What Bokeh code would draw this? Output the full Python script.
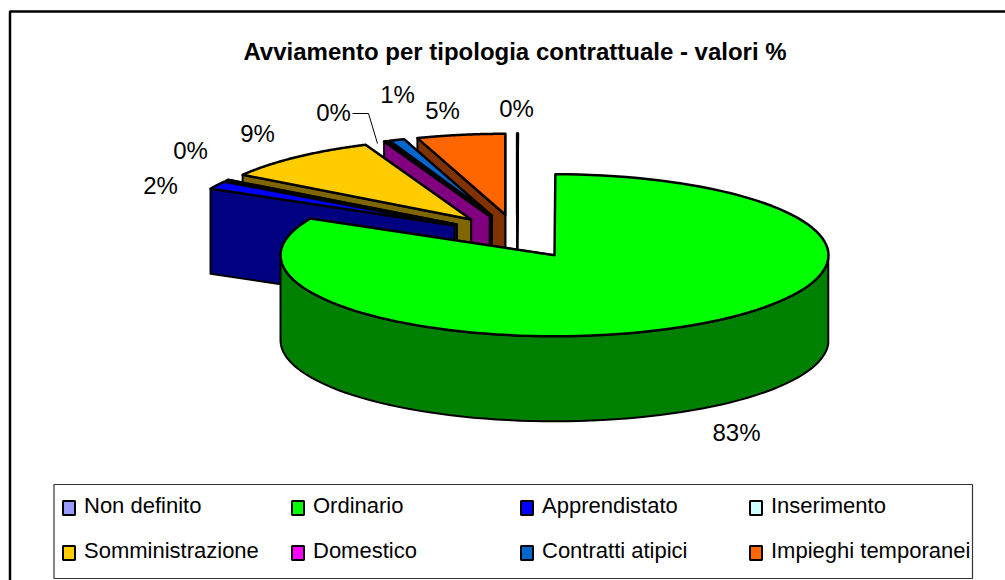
import numpy as np
from bokeh.plotting import figure
from bokeh.embed import file_html
from bokeh.resources import INLINE
from bokeh.models import Range1d
from bokeh.core.properties import value

categories = ["Non definito", "Ordinario", "Apprendistato", "Inserimento",
              "Somministrazione", "Domestico", "Contratti atipici", "Impieghi temporanei"]
values = [0.05, 82.5, 1.6, 0.2, 9.4, 0.2, 0.9, 5.2]
top_colors = ["#9999FF", "#00FF00", "#0000FF", "#CCFFFF", "#FFCC00", "#FF00FF", "#0066CC", "#FF6600"]
wall_colors = ["#4C4C80", "#008000", "#000080", "#668080", "#806600", "#800080", "#003366", "#803300"]
title = "Avviamento per tipologia contrattuale - valori %"

CX, CY, RX, RY, DEPTH = 516.5, 236.0, 274.0, 81.0, 85.0
EX, EY = 72.0, 22.0
FONT = value("Liberation Sans")

p = figure(width=1005, height=580, output_backend="svg", toolbar_location=None,
           x_range=Range1d(0, 1005), y_range=Range1d(580, 0),
           min_border=0, outline_line_color=None)
p.axis.visible = False
p.grid.visible = False
p.background_fill_color = "white"

# chart frame
p.line([9.5, 9.5, 1010], [600, 11, 11], line_color="#000000", line_width=2.5)

p.text([514.5], [51], text=[title], text_font=FONT,
       text_font_size="24px", text_font_style="bold", text_align="center", text_baseline="middle",
       text_color="#000000")

fr = np.array(values) / sum(values)
ends = np.cumsum(fr) * 2 * np.pi
starts = ends - fr * 2 * np.pi
mids = (starts + ends) / 2
apex_x = CX + EX * np.sin(mids)
apex_y = CY - EY * np.cos(mids)


def draw_slice(i):
    t = np.linspace(starts[i], ends[i], 120)
    x = apex_x[i] + RX * np.sin(t)
    y = apex_y[i] - RY * np.cos(t)
    # cut faces, back one first
    faces = [(x[-1], y[-1]), (x[0], y[0])]
    for rx_, ry_ in faces:
        # a cut face only shows when its rim end lies left of, or below, the apex
        if i == 1 and rx_ >= apex_x[i] - 1:
            continue
        p.patch([apex_x[i], rx_, rx_, apex_x[i]],
                [apex_y[i], ry_, ry_ + DEPTH, apex_y[i] + DEPTH],
                fill_color=wall_colors[i], line_color="black", line_width=2, line_join="round")
    # front rim wall (only the part facing the viewer)
    mask = np.cos(t) <= 0
    if mask.any():
        wx, wy = x[mask], y[mask]
        p.patch(np.r_[wx, wx[::-1]], np.r_[wy, wy[::-1] + DEPTH],
                fill_color=wall_colors[i], line_color="black", line_width=2, line_join="round")
    p.patch(np.r_[apex_x[i], x], np.r_[apex_y[i], y],
            fill_color=top_colors[i], line_color="black", line_width=2.5, line_join="round")


# back to front
for i in [0, 7, 6, 5, 4, 3, 2, 1]:
    draw_slice(i)

# data labels
labels = [f"{int(v + 0.5):d}%" for v in values]
lab_x = [516, 736, 160, 190, 257, 333, 397, 442]
lab_y = [108, 432, 185, 150, 133, 112, 94, 110]
p.text(lab_x, lab_y, text=labels, text_font=FONT, text_font_size="24px",
       text_align="center", text_baseline="middle", text_color="#000000")
# leader line of the 'Domestico' label
p.line([352, 368, 377], [113, 113, 143], line_color="#000000", line_width=1)

# legend
p.quad(left=[53.5], right=[972], top=[484], bottom=[578], fill_color="white", line_color="#333333", line_width=1.2)
col_x = [62, 291, 520, 749]
row_y = [506, 551]
for k, name in enumerate(categories):
    cx = col_x[k % 4]
    cy = row_y[k // 4]
    p.rect([cx + 6.5], [cy + 1.5], width=12, height=14, fill_color=top_colors[k], line_color="black", line_width=2)
    p.text([cx + 21.5], [cy - 1], text=[name], text_font=FONT, text_font_size="22px",
           text_align="left", text_baseline="middle", text_color="#000000")

open("out.html", "w").write(file_html(p, INLINE))
